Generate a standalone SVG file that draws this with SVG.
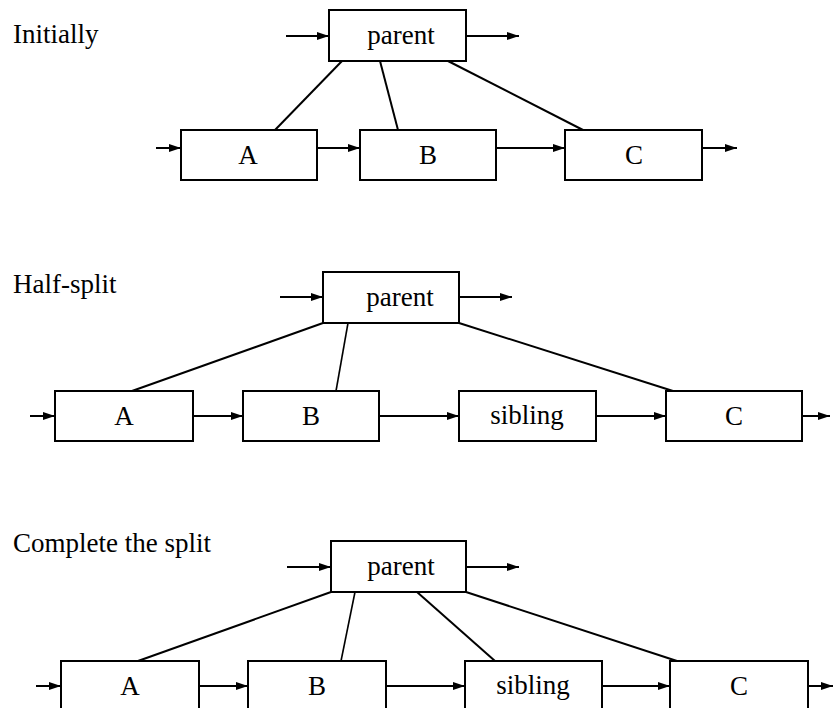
<svg xmlns="http://www.w3.org/2000/svg" width="833" height="708" viewBox="0 0 833 708">
<style>
.box{fill:#fff;stroke:#000;stroke-width:2}
.t{font-family:"Liberation Serif","Times New Roman",serif;font-size:27px;fill:#000}
.c{text-anchor:middle}
.ln{stroke:#000;stroke-width:2;fill:none}
.ar{stroke:#000;stroke-width:2;fill:none;marker-end:url(#ah)}
</style>
<defs>
<marker id="ah" viewBox="0 0 12 8" refX="12" refY="4" markerWidth="12" markerHeight="8" markerUnits="userSpaceOnUse" orient="auto">
<path d="M0,0 L12,4 L0,8 Z" fill="#000"/>
</marker>
</defs>
<rect width="833" height="708" fill="#fff"/>
<g id="labels">
<text class="t" x="13" y="43">Initially</text>
<text class="t" x="13" y="293">Half-split</text>
<text class="t" x="13" y="552">Complete the split</text>
</g>
<g id="connectors">
<!-- section 1 -->
<line class="ar" x1="286" y1="36" x2="329" y2="36"/>
<line class="ar" x1="466" y1="36" x2="519" y2="36"/>
<line class="ln" x1="342" y1="61" x2="275" y2="130"/>
<line class="ln" x1="380" y1="61" x2="398" y2="130"/>
<line class="ln" x1="448" y1="61" x2="583" y2="130"/>
<line class="ar" x1="156" y1="148" x2="181" y2="148"/>
<line class="ar" x1="317" y1="148" x2="360" y2="148"/>
<line class="ar" x1="496" y1="148" x2="565" y2="148"/>
<line class="ar" x1="702" y1="148" x2="737" y2="148"/>
<!-- section 2 -->
<line class="ar" x1="280" y1="297" x2="323" y2="297"/>
<line class="ar" x1="459" y1="297" x2="512" y2="297"/>
<line class="ln" x1="323" y1="323" x2="132" y2="391"/>
<line class="ln" x1="348" y1="323" x2="336" y2="391" style="stroke-width:1.6"/>
<line class="ln" x1="459" y1="323" x2="673" y2="391"/>
<line class="ar" x1="30" y1="416" x2="55" y2="416"/>
<line class="ar" x1="193" y1="416" x2="243" y2="416"/>
<line class="ar" x1="379" y1="416" x2="459" y2="416"/>
<line class="ar" x1="596" y1="416" x2="666" y2="416"/>
<line class="ar" x1="802" y1="416" x2="830" y2="416"/>
<!-- section 3 -->
<line class="ar" x1="287" y1="567" x2="331" y2="567"/>
<line class="ar" x1="466" y1="567" x2="519" y2="567"/>
<line class="ln" x1="331" y1="592" x2="138" y2="661"/>
<line class="ln" x1="355" y1="592" x2="341" y2="661" style="stroke-width:1.6"/>
<line class="ln" x1="417" y1="592" x2="495" y2="661"/>
<line class="ln" x1="466" y1="592" x2="677" y2="661"/>
<line class="ar" x1="36" y1="686" x2="61" y2="686"/>
<line class="ar" x1="199" y1="686" x2="248" y2="686"/>
<line class="ar" x1="386" y1="686" x2="465" y2="686"/>
<line class="ar" x1="602" y1="686" x2="670" y2="686"/>
<line class="ar" x1="808" y1="686" x2="833" y2="686"/>
</g>
<g id="s1-parent"><rect class="box" x="329" y="10" width="137" height="51"/><text class="t c" x="401" y="44">parent</text></g>
<g id="s1-A"><rect class="box" x="181" y="130" width="136" height="50"/><text class="t c" x="248" y="164">A</text></g>
<g id="s1-B"><rect class="box" x="360" y="130" width="136" height="50"/><text class="t c" x="428" y="164">B</text></g>
<g id="s1-C"><rect class="box" x="565" y="130" width="137" height="50"/><text class="t c" x="634" y="164">C</text></g>

<g id="s2-parent"><rect class="box" x="323" y="272" width="136" height="51"/><text class="t c" x="400" y="306">parent</text></g>
<g id="s2-A"><rect class="box" x="55" y="391" width="138" height="50"/><text class="t c" x="124" y="425">A</text></g>
<g id="s2-B"><rect class="box" x="243" y="391" width="136" height="50"/><text class="t c" x="311" y="425">B</text></g>
<g id="s2-sibling"><rect class="box" x="459" y="391" width="137" height="50"/><text class="t c" x="527" y="424">sibling</text></g>
<g id="s2-C"><rect class="box" x="666" y="391" width="136" height="50"/><text class="t c" x="734" y="425">C</text></g>

<g id="s3-parent"><rect class="box" x="331" y="541" width="135" height="51"/><text class="t c" x="401" y="575">parent</text></g>
<g id="s3-A"><rect class="box" x="61" y="661" width="138" height="52"/><text class="t c" x="130" y="695">A</text></g>
<g id="s3-B"><rect class="box" x="248" y="661" width="138" height="52"/><text class="t c" x="317" y="695">B</text></g>
<g id="s3-sibling"><rect class="box" x="465" y="661" width="137" height="52"/><text class="t c" x="533" y="694">sibling</text></g>
<g id="s3-C"><rect class="box" x="670" y="661" width="138" height="52"/><text class="t c" x="739" y="695">C</text></g>
</svg>
